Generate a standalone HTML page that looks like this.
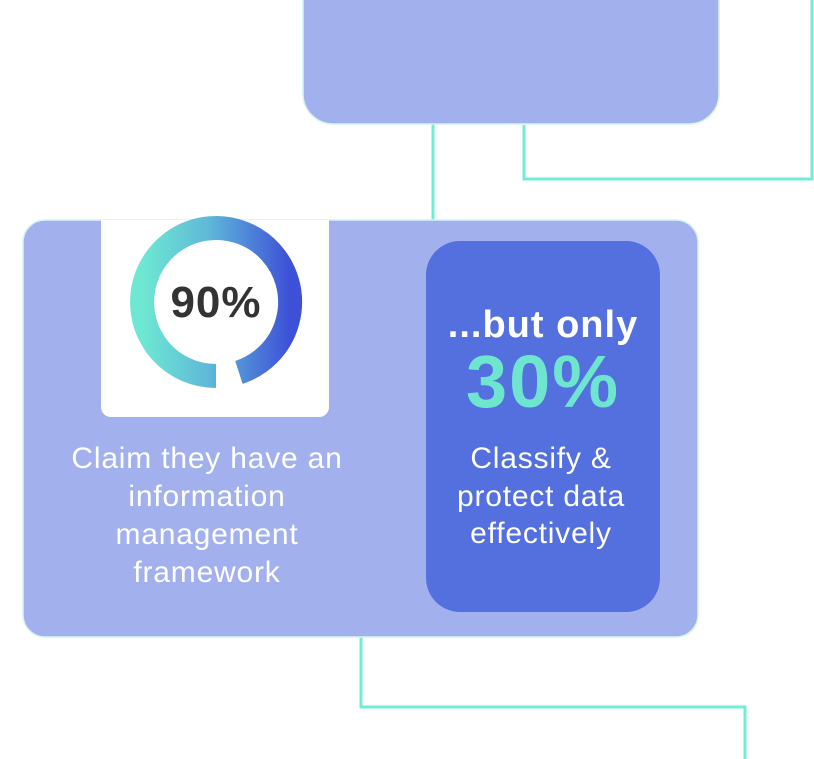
<!DOCTYPE html>
<html><head><meta charset="utf-8"><style>
html,body{margin:0;padding:0;background:#fff;}
svg{display:block}
text{font-family:"Liberation Sans","DejaVu Sans",sans-serif;}
</style></head><body>
<svg width="814" height="759" viewBox="0 0 814 759" xmlns="http://www.w3.org/2000/svg">
<defs>
<linearGradient id="g" x1="0" y1="0" x2="1" y2="0">
<stop offset="0" stop-color="#6ee8d2"/><stop offset="0.45" stop-color="#5fb8d8"/><stop offset="1" stop-color="#3d50d8"/>
</linearGradient>
</defs>
<g fill="none" stroke="#72ecd4" stroke-width="3">
<line x1="433" y1="124" x2="433" y2="221"/>
<polyline points="524,125 524,179 812,179 812,0"/>
<polyline points="361,636 361,707 745,707 745,759"/>
</g>
<rect x="303" y="-40" width="416" height="164" rx="30" fill="#a2b1ee" stroke="#d4f4f4" stroke-width="1.5"/>
<rect x="23" y="220" width="675" height="417" rx="22" fill="#a2b1ee" stroke="#d4f4f4" stroke-width="1.5"/>
<path d="M101 220 H329 V407 a10 10 0 0 1 -10 10 H111 a10 10 0 0 1 -10 -10 Z" fill="#fff"/>
<path d="M216 376 A74 74 0 1 1 238.9 372.4" fill="none" stroke="url(#g)" stroke-width="24"/>
<text x="216" y="317" text-anchor="middle" font-size="44" font-weight="bold" fill="#333" letter-spacing="1">90%</text>
<g fill="#fff" font-size="30" text-anchor="middle" letter-spacing="0.8">
<text x="207" y="468">Claim they have an</text>
<text x="207" y="506">information</text>
<text x="207" y="544">management</text>
<text x="207" y="582">framework</text>
</g>
<rect x="426" y="241" width="234" height="371" rx="34" fill="#5470df"/>
<text x="543" y="337" text-anchor="middle" font-size="38" font-weight="bold" fill="#fff" letter-spacing="1">...but only</text>
<text x="543" y="407" text-anchor="middle" font-size="74" font-weight="bold" fill="#6ee6cf" letter-spacing="2">30%</text>
<g fill="#fff" font-size="30" text-anchor="middle" letter-spacing="0.8">
<text x="541" y="468">Classify &amp;</text>
<text x="541" y="506">protect data</text>
<text x="541" y="543">effectively</text>
</g>
</svg>
</body></html>
